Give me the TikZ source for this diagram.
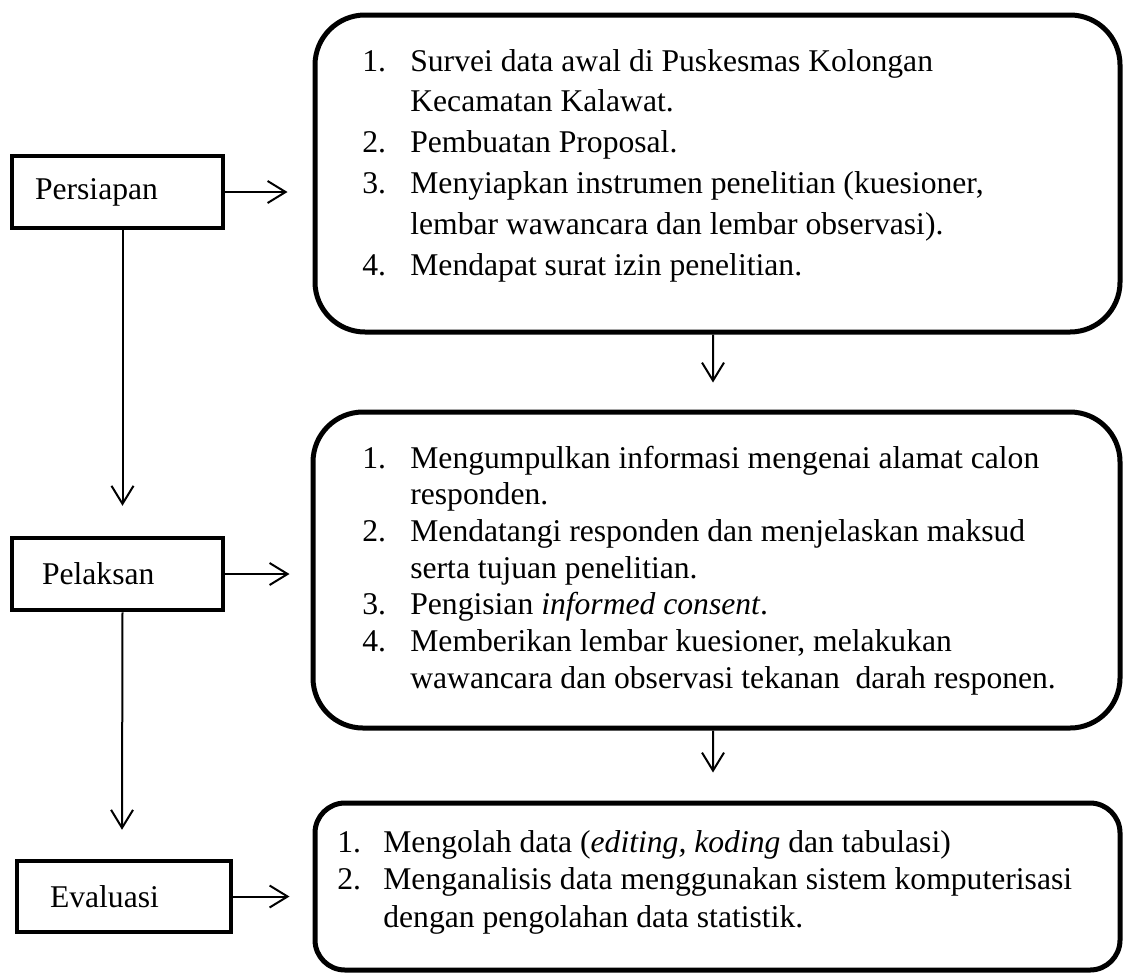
\documentclass[tikz,border=0pt]{standalone}
\usepackage{fontspec}
\setmainfont{Liberation Serif}
\usetikzlibrary{positioning}
\usetikzlibrary{arrows.meta}

\begin{document}
\begin{tikzpicture}[
    stagebox/.style={draw=black, line width=0.09cm, minimum height=1.44cm, align=left, font=\fontsize{18}{22}\selectfont},
    roundbox/.style={draw=black, line width=0.1cm, minimum width=16.1cm},
    itemtext/.style={anchor=base west, inner sep=0pt},
    arr/.style={line width=0.04cm, -{Straight Barb[length=0.36cm, width=0.44cm, line width=0.04cm]}}
]
    \useasboundingbox (0, 0) rectangle (22.5, -19.48);

    % Stages on the left
    \node at (2.35, -3.84) [stagebox, text width=3.30cm, inner xsep=0.46cm](persiapan){Persiapan};
    \node at (2.35, -11.48) [stagebox, text width=3.02cm, inner xsep=0.6cm](pelaksan){Pelaksan};
    \node at (2.48, -17.93) [stagebox, text width=2.96cm, inner xsep=0.66cm, minimum height=1.42cm](evaluasi){Evaluasi};

    % Rounded boxes on the right
    % - [Box: Persiapan]
    \node at (14.35, -3.47) [roundbox, rounded corners=1cm, minimum height=6.34cm](plan){};
    \node at (7.24, -1.42) [itemtext, font=\fontsize{18}{23.3}\selectfont](plan_text){%
        \begin{tabular}[t]{@{}p{0.96cm}@{}l@{}}
        1. & Survei data awal di Puskesmas Kolongan \\
           & Kecamatan Kalawat. \\
        2. & Pembuatan Proposal. \\
        3. & Menyiapkan instrumen penelitian (kuesioner, \\
           & lembar wawancara dan lembar observasi). \\
        4. & Mendapat surat izin penelitian.
        \end{tabular}};
    % - [Box: Pelaksanaan]
    \node at (14.33, -11.4) [roundbox, rounded corners=1cm, minimum width=16.14cm, minimum height=6.32cm](act){};
    \node at (7.24, -9.36) [itemtext, font=\fontsize{18}{20.9}\selectfont](act_text){%
        \begin{tabular}[t]{@{}p{0.96cm}@{}l@{}}
        1. & Mengumpulkan informasi mengenai alamat calon \\
           & responden. \\
        2. & Mendatangi responden dan menjelaskan maksud \\
           & serta tujuan penelitian. \\
        3. & Pengisian \textit{informed consent}. \\
        4. & Memberikan lembar kuesioner, melakukan \\
           & wawancara dan observasi tekanan\ \ darah responen.
        \end{tabular}};
    % - [Box: Evaluasi]
    \node at (14.35, -17.73) [roundbox, rounded corners=0.6cm, minimum height=3.34cm](check){};
    \node at (6.74, -17.04) [itemtext, font=\fontsize{18}{21.6}\selectfont](check_text){%
        \begin{tabular}[t]{@{}p{0.92cm}@{}l@{}}
        1. & Mengolah data (\textit{editing, koding} dan tabulasi) \\
        2. & Menganalisis data menggunakan sistem komputerisasi \\
           & dengan pengolahan data statistik.
        \end{tabular}};

    % Arrows
    % - Stage to box
    \draw [arr] (persiapan.east) -- ([xshift=-5mm]persiapan.east -| plan.west);
    \draw [arr] (pelaksan.east) -- ([xshift=-4.2mm]pelaksan.east -| act.west);
    \draw [arr] (evaluasi.east) -- ([xshift=-4.6mm]evaluasi.east -| check.west);
    % - Down the left side
    \draw [arr] ([xshift=1mm]persiapan.south) -- ([xshift=1mm, yshift=6mm]pelaksan.north);
    \draw [arr] ([xshift=1mm]pelaksan.south) -- ([xshift=-0.4mm, yshift=5.8mm]evaluasi.north);
    % - Down the right side
    \draw [arr] ([xshift=-0.9mm]plan.south) -- ([xshift=-0.7mm, yshift=5.4mm]act.north);
    \draw [arr] ([xshift=-0.7mm]act.south) -- ([xshift=-0.9mm, yshift=5.6mm]check.north);

\end{tikzpicture}
\end{document}
